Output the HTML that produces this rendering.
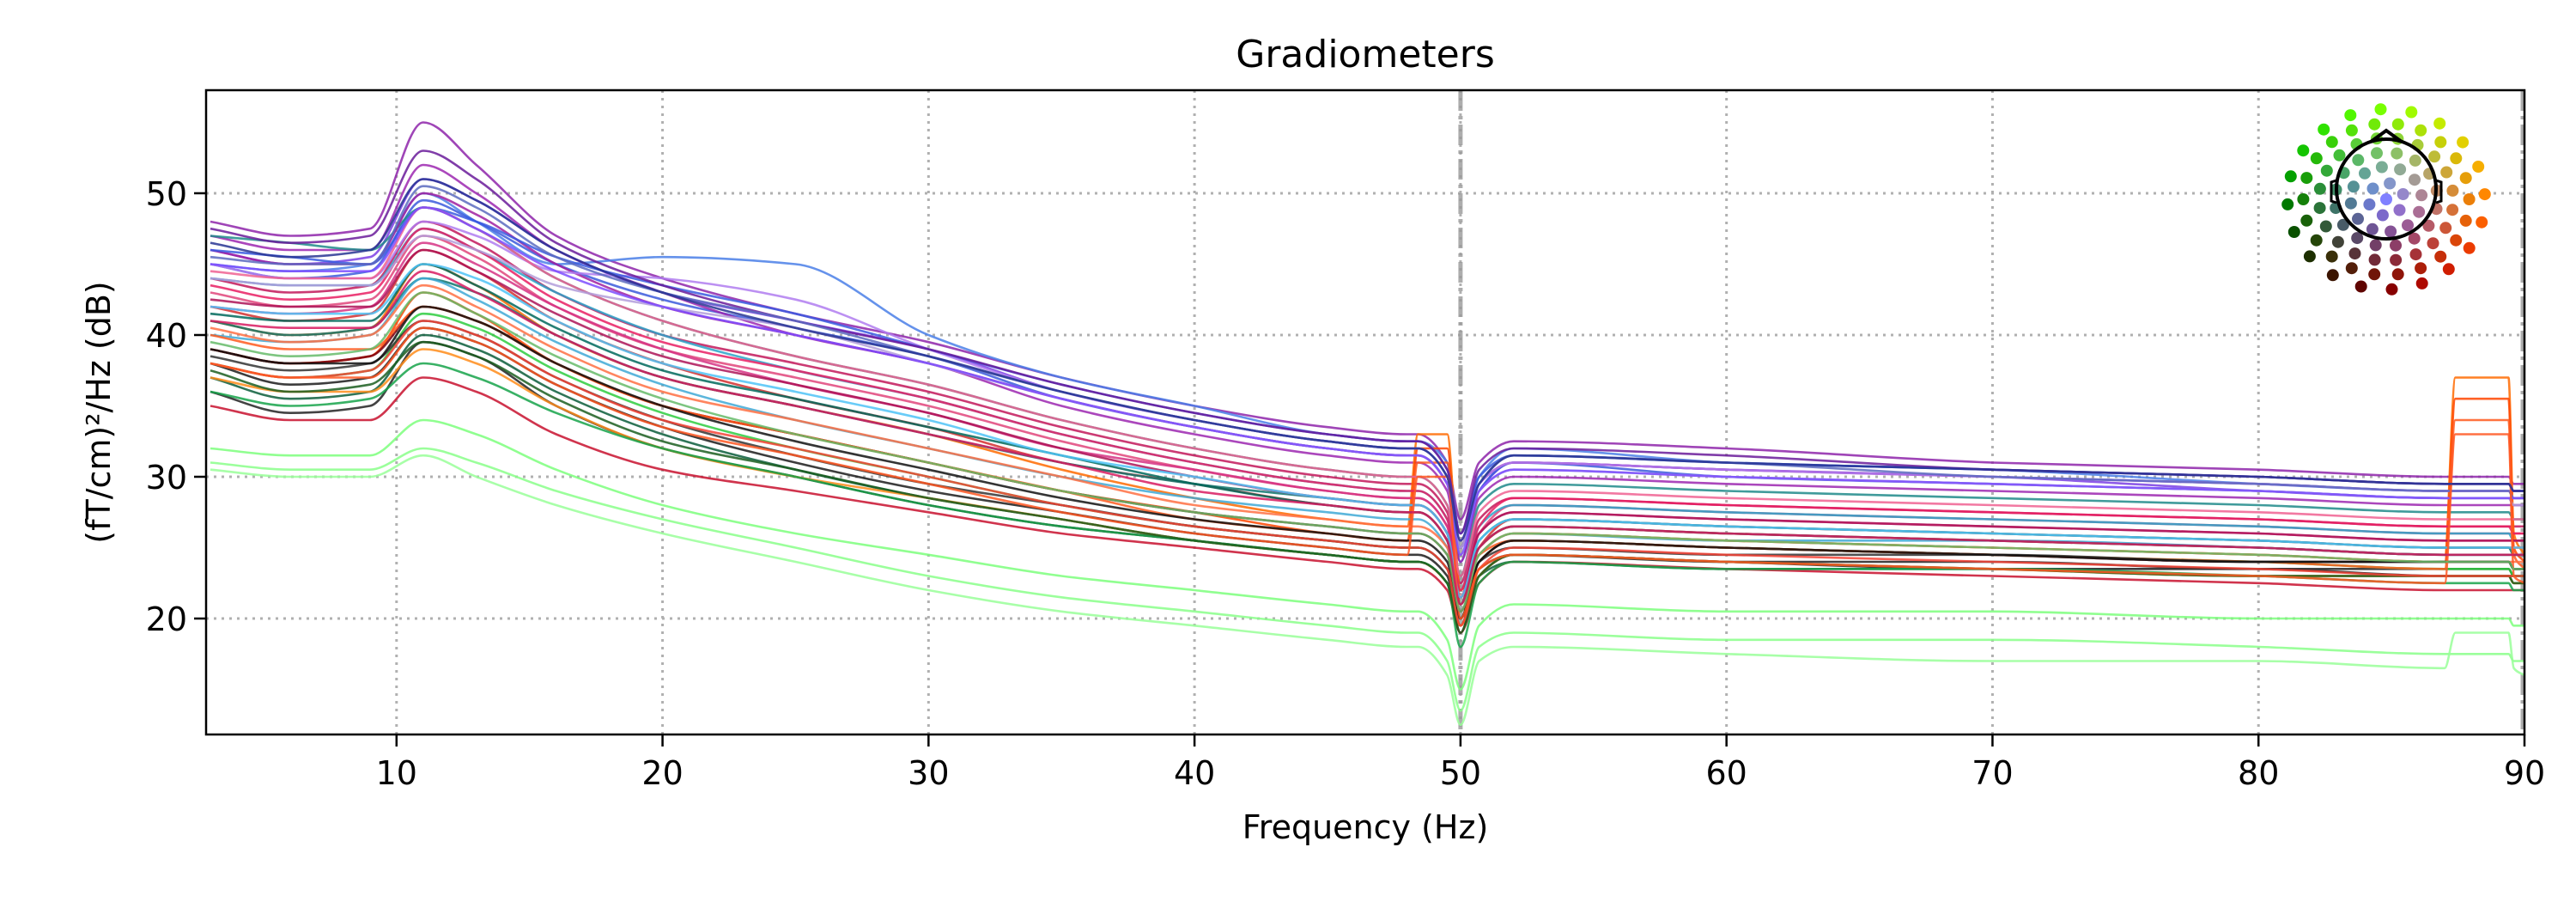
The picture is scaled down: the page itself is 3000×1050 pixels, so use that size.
<!DOCTYPE html>
<html><head><meta charset="utf-8"><style>
html,body{margin:0;padding:0;background:#fff;}
svg{display:block;font-family:"DejaVu Sans","Liberation Sans",sans-serif;}
</style></head><body>
<svg id="chart" width="3000" height="1050" viewBox="0 0 3000 1050">
<text x="1590" y="78" font-size="44" text-anchor="middle">Gradiometers</text>
<text x="1590" y="976" font-size="38" text-anchor="middle">Frequency (Hz)</text>
<text transform="translate(128,480) rotate(-90)" font-size="38" text-anchor="middle">(fT/cm)²/Hz (dB)</text>
<defs><clipPath id="plotclip"><rect x="240" y="105" width="2700" height="750"/></clipPath></defs>
<g id="grid"></g>
<g id="traces" clip-path="url(#plotclip)"></g>
<g id="axes"></g>
<g id="head"></g>
</svg>
<script>
const knots = [3,6,9,11,13,16,20,25,30,35,40,45,48,48.4,49.5,50,50.7,52,60,70,80,87,87.4,89.4,89.6,90];
const xTicks = [10,20,30,40,50,60,70,80,90];
const yTicks = [20,30,40,50];
const traceColors = ["#8e24aa","#4a7fe8","#7b3fe4","#3b5bdc","#9c27b0","#1f8a8a","#c2185b","#e0457b","#2ba3c9","#d32f2f","#ff6a00","#ff4500","#1b1b1b","#0b5d3b","#222222","#2ecc40","#ff8c1a","#c8102e","#7dff7d","#8aff8a","#99ff99","#16a34a","#a020a0","#b07cf0","#d63384","#0f766e","#3fa9d6","#7a0010","#ff5a1f","#3a5be0","#f06292","#333333","#6a1b9a","#5c6bc0","#e91e63","#ad1457","#ff7043","#00695c","#1b5e20","#111111","#b39ddb","#7c4dff","#4fc3f7","#f44336","#ff5722","#66bb6a","#283593","#d81b60"];
const traceValues = [
[48,47,47.5,55,52,47,44,41.5,39.5,37,35,33.5,33,33,31,27,31,32.5,32,31,30.5,30,30,30,29.5,29.5],
[45,44.5,45,50,48,45,45.5,45,40,37,35,33,32.5,32.5,31,26,30,32,31,30.5,29.5,29,29,29,29,29],
[46,45,45.5,51,49.5,46,43,41,39,36,34,32.5,32,32,30,25,29,31,30.5,30,29,28.5,28.5,28.5,28,28],
[45,44,44.5,49.5,48,45,42.5,40.5,38.5,35.5,33.5,32,31.5,31.5,29.5,24,29,31,30,29.5,29,28.5,28.5,28.5,28.5,28.5],
[47,46,46,52,50,46,43,40,38,35,33,31.5,31,31,29,24,28.5,30,29.5,29,28.5,28,28,28,28,28],
[47,46.5,46,49,47.5,44,41,38.5,36.5,34,32,30.5,30,30,28,23,28,29.5,29,28.5,28,27.5,27.5,27.5,27,27],
[44,43,43.5,48,46.5,43,40,38,36,33.5,31.5,30,29.5,29.5,27.5,22.5,27,28.5,28,27.5,27,26.5,26.5,26.5,26.5,26.5],
[43,42,42.5,47,45.5,42,39,37,35,32.5,30.5,29,28.5,28.5,26.5,22,26,28,27.5,27,26.5,26,26,26,26,26],
[44,43.5,43.5,47.5,46,43,40,37.5,35.5,33,31,29.5,29,29,27,22,26.5,28,27.5,27,26.5,26,26,26,25.5,25.5],
[42,41,41.5,46,44.5,41,38,35.5,33.5,31,29.5,28,27.5,27.5,25.5,21,25,27,26.5,26,25.5,25,25,25,25,25],
[41,40,40.5,45,43.5,40,37,35,33,30.5,28.5,27,26.5,33,33,22,25,26.5,26,25.5,25,24.5,37,37,26,24.5],
[39,38,38.5,43,41.5,38,35,33,31,29,27.5,26,25.5,32,32,21,24.5,26,25.5,25,24.5,24,35.5,35.5,25,24],
[38,36.5,37,40.5,39.5,36.5,33.5,31,29,27.5,26,25,24.5,24.5,23,19.5,23.5,24.5,24,23.5,23.5,23,23,23,23,23],
[37,35.5,36,40,39,36,33,30.5,28.5,27,25.5,24.5,24,24,22.5,19,23,24,23.5,23.5,23,23,23,23,22.5,22.5],
[36,34.5,35,39.5,38.5,35,32,30,28,26.5,25.5,24.5,24,24,22.5,19,23,24.5,24,24,23.5,23.5,23.5,23.5,23,23],
[38,37,37.5,41.5,40.5,37.5,34.5,32,30,28,26.5,25.5,25,25,23.5,20,24,25.5,25,24.5,24,23.5,23.5,23.5,23,23],
[37,36,36,39,38,35,32,30,28.5,27,25.5,24.5,24,24,22.5,19.5,23,24.5,24,23.5,23,23,23,23,22.5,22.5],
[35,34,34,37,36,33,30.5,29,27.5,26,25,24,23.5,23.5,22,19,22.5,24,23.5,23,22.5,22,22,22,22,22],
[32,31.5,31.5,34,33,30.5,28,26,24.5,23,22,21,20.5,20.5,18.5,15,19.5,21,20.5,20.5,20,20,20,20,19.5,19.5],
[31,30.5,30.5,32,31,29,27,25,23,21.5,20.5,19.5,19,19,17,13.5,18,19,18.5,18.5,18,17.5,17.5,17.5,17,17],
[30.5,30,30,31.5,30,28,26,24,22,20.5,19.5,18.5,18,18,16,12.5,17,18,17.5,17,17,16.5,19,19,16.5,16],
[36,35,35.5,38,37,34.5,32,30,28,26.5,25.5,24.5,24,24,22.5,18,22.5,24,23.5,23.5,23,22.5,22.5,22.5,22,22],
[46,45,45,50,48.5,45,42,40,38,35.5,33.5,32,31.5,31.5,29.5,25,29.5,31,30.5,30,29.5,29,29,29,28.5,28.5],
[45,44,44,48,47,44.5,44,42.5,39,36,34,32.5,32,32,30,25.5,29.5,31,30.5,30,29.5,29,29,29,28.5,28.5],
[42,41.5,42,46.5,45,42,39,36.5,34.5,32,30.5,29,28.5,28.5,26.5,21.5,26,27.5,27,26.5,26,25.5,25.5,25.5,25.5,25.5],
[41,40,40.5,44,43,40,37,35,33,31,29.5,28.5,28,28,26,21,25.5,27,26.5,26,25.5,25,25,25,24.5,24.5],
[40,39.5,40,44,42.5,39.5,36.5,34,32,30,28.5,27.5,27,27,25,21,24.5,26,25.5,25.5,25,24.5,24.5,24.5,24.5,24.5],
[39,38,38.5,42,41,38,35,33,31,29,27.5,26.5,26,26,24.5,20.5,24,25.5,25,24.5,24,24,24,24,23.5,23.5],
[40,39,39,42,41,38,35,33,31,29,27,26,25.5,31,31,21.5,24.5,25.5,25,24.5,24,23.5,34,34,24.5,23.5],
[46,45.5,45,49,48,45.5,43.5,41.5,39,36.5,34.5,33,32.5,32.5,30.5,26,30,31.5,31,30.5,30,29.5,29.5,29.5,29,29],
[44.5,44,44,49,47.5,44,41,38.5,36.5,34,32,30.5,30,30,28,23,27.5,29,28.5,28,27.5,27,27,27,27,27],
[38.5,37.5,38,41,40,37,34,31.5,29.5,28,26.5,25.5,25,25,23.5,20,24,25,24.5,24.5,24,24,24,24,23.5,23.5],
[47.5,46.5,47,53,51,46.5,43.5,41,39,36.5,34.5,33,32.5,32.5,30.5,26,30.5,32,31.5,30.5,30,29.5,29.5,29.5,29,29],
[45.5,45,45,50.5,49,45.5,43,41,38.5,36,34,32.5,32,32,30,25,29.5,31.5,31,30,29.5,29,29,29,28.5,28.5],
[43.5,42.5,43,47.5,46,42.5,39.5,37.5,35.5,33,31,29.5,29,29,27,22,26.5,28.5,28,27.5,27,26.5,26.5,26.5,26,26],
[42.5,42,42,46,44.5,41.5,38.5,36.5,34.5,32,30,28.5,28,28,26,21.5,26,27.5,27,26.5,26,25.5,25.5,25.5,25.5,25.5],
[40.5,39.5,40,43.5,42,39,36,34,32,30,28,27,26.5,26.5,25,21,24.5,26,25.5,25,24.5,24,24,24,24,24],
[41.5,41,41,45,43.5,40.5,37.5,35.5,33.5,31.5,29.5,28,27.5,27.5,25.5,21,25,26.5,26,25.5,25,24.5,24.5,24.5,24.5,24.5],
[37.5,36,36.5,39.5,38.5,35.5,32.5,30.5,28.5,27,25.5,24.5,24,24,22.5,19,23,24.5,24,23.5,23,23,23,23,22.5,22.5],
[39,38,38,42,41,38,35,32.5,30.5,28.5,27,26,25.5,25.5,24,20,24,25.5,25,24.5,24,24,24,24,23.5,23.5],
[44,43.5,43.5,47,46,43.5,42,40.5,38,35.5,33.5,32,31.5,31.5,29.5,25,29,30.5,30,29.5,29,28.5,28.5,28.5,28,28],
[45,44.5,44.5,49,47.5,44.5,42,40,38,35.5,33.5,32,31.5,31.5,29.5,24.5,29,30.5,30,29.5,29,28.5,28.5,28.5,28.5,28.5],
[42,41.5,41.5,45,44,41,38,36,34,31.5,30,28.5,28,28,26,21.5,25.5,27,26.5,26,25.5,25,25,25,25,25],
[38,37,37.5,41,40,37,34,32,30,28,26.5,25.5,25,25,23.5,19.5,23.5,25,24.5,24,23.5,23,23,23,23,23],
[38,37,37,40.5,39.5,36.5,33.5,31.5,29.5,27.5,26,25,24.5,30,30,20,23.5,24.5,24,23.5,23,22.5,33,33,23,22.5],
[39.5,38.5,39,43,41.5,38.5,35.5,33,31,29,27.5,26.5,26,26,24.5,20.5,24.5,26,25.5,25,24.5,24,24,24,23.5,23.5],
[46.5,45.5,46,51,49.5,46,43,40.5,38.5,36,34,32.5,32,32,30,25.5,29.5,31.5,31,30.5,30,29.5,29.5,29.5,29,29],
[41,40.5,40.5,44.5,43,40,37,35,33,31,29,28,27.5,27.5,25.5,21,25,26.5,26,25.5,25,24.5,24.5,24.5,24.5,24.5]
];
const NS='http://www.w3.org/2000/svg';
const L=240,R=2940,T=105,B=855, XMIN=2.84, XMAX=90, YMIN=11.82, YMAX=57.27;
const xs=f=>L+(f-XMIN)/(XMAX-XMIN)*(R-L);
const ys=v=>B-(v-YMIN)/(YMAX-YMIN)*(B-T);
function mk(tag,attrs,parent){const e=document.createElementNS(NS,tag);for(const k in attrs)e.setAttribute(k,attrs[k]);parent.appendChild(e);return e;}
function monoPath(px,py){
  const n=px.length, d=[], m=new Array(n);
  for(let i=0;i<n-1;i++)d.push((py[i+1]-py[i])/(px[i+1]-px[i]));
  m[0]=d[0]; m[n-1]=d[n-2];
  for(let i=1;i<n-1;i++){ if(d[i-1]*d[i]<=0)m[i]=0; else { const w1=2*(px[i+1]-px[i])+(px[i]-px[i-1]), w2=(px[i+1]-px[i])+2*(px[i]-px[i-1]); m[i]=(w1+w2)/(w1/d[i-1]+w2/d[i]); } }
  let s='M'+px[0].toFixed(1)+','+py[0].toFixed(1);
  for(let i=0;i<n-1;i++){const h=px[i+1]-px[i];
    s+=' C'+(px[i]+h/3).toFixed(1)+','+(py[i]+m[i]*h/3).toFixed(1)+' '+(px[i+1]-h/3).toFixed(1)+','+(py[i+1]-m[i+1]*h/3).toFixed(1)+' '+px[i+1].toFixed(1)+','+py[i+1].toFixed(1);}
  return s;
}
const grid=document.getElementById('grid'), axes=document.getElementById('axes'), tr=document.getElementById('traces'), head=document.getElementById('head');
xTicks.forEach(t=>{
  const x=xs(t);
  if(t<90){const g=mk('line',{x1:x,x2:x,y1:T,y2:B,stroke:'#b0b0b0','stroke-width':3,'stroke-dasharray':'3,6'},grid);
  
  }
  const tk=mk('line',{x1:x,x2:x,y1:B,y2:B+14,stroke:'#000','stroke-width':2.5},axes);
  
  
  const lb=mk('text',{x:x,y:B+58,'font-size':38,'text-anchor':'middle'},axes);lb.textContent=t;
  
  
});
yTicks.forEach(t=>{
  const y=ys(t);
  const g=mk('line',{x1:L,x2:R,y1:y,y2:y,stroke:'#b0b0b0','stroke-width':3,'stroke-dasharray':'3,6'},grid);
  
  
  const tk=mk('line',{x1:L-14,x2:L,y1:y,y2:y,stroke:'#000','stroke-width':2.5},axes);
  
  
  const lb=mk('text',{x:L-22,y:y+14,'font-size':38,'text-anchor':'end'},axes);lb.textContent=t;
  
  
});
[50,90].forEach(f=>{const m=mk('line',{x1:xs(f)-(f==90?2:0),x2:xs(f)-(f==90?2:0),y1:T,y2:B,stroke:'#999','stroke-width':5,'stroke-dasharray':'24,6,4,6',opacity:0.8},grid);
  
  });
traceValues.forEach((vals,i)=>{
  const d=monoPath(knots.map(xs),vals.map(ys));
  const p=mk('path',{d:d,fill:'none',stroke:traceColors[i%traceColors.length],'stroke-width':2.6,'stroke-linejoin':'round',opacity:0.85},tr);
  
  
});
const fr=mk('rect',{x:L,y:T,width:R-L,height:B-T,fill:'none',stroke:'#000','stroke-width':2.5},axes);


// sensor inset: colour = rgb(x, y, height)
const cx=2779, cy=232, hcy=220;
const rings=[[0,1],[0.18,6],[0.36,12],[0.52,16],[0.68,20],[0.84,22],[1.0,20]];
rings.forEach(([r,n],ri)=>{
  for(let k=0;k<n;k++){
    const a=(k/n)*2*Math.PI+ri*0.2;
    const ux=r*Math.sin(a), uy=r*Math.cos(a);
    const x=cx+ux*115, y=cy-uy*105;
    const rr=Math.round((ux+1)/2*255), gg=Math.round((uy+1)/2*255), bb=Math.round(Math.max(0,1-r*1.15)*255);
    const c=mk('circle',{cx:x.toFixed(1),cy:y.toFixed(1),r:7,fill:`rgb(${rr},${gg},${bb})`},head);
    
    
  }
});
const hc=mk('circle',{cx:cx,cy:hcy,r:58,fill:'none',stroke:'#000','stroke-width':4},head);


const nose=mk('path',{d:`M${cx-18},${hcy-55} L${cx},${hcy-68} L${cx+18},${hcy-55}`,fill:'none',stroke:'#000','stroke-width':4},head);


[-1,1].forEach(s=>{const e=mk('path',{d:`M${cx+s*58},${hcy-10} L${cx+s*64},${hcy-8} L${cx+s*64},${hcy+14} L${cx+s*58},${hcy+16}`,fill:'none',stroke:'#000','stroke-width':3},head);
  
  });
</script>
</body></html>
